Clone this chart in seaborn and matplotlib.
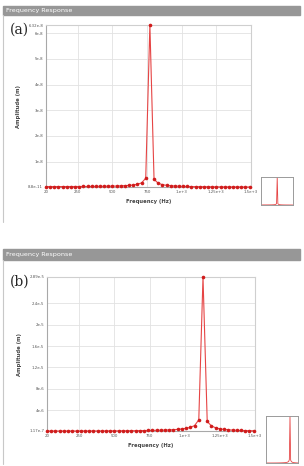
import numpy as np
import pandas as pd
import seaborn as sns
import matplotlib.pyplot as plt
from matplotlib.patches import Rectangle
from matplotlib.lines import Line2D

# frequencies (Hz)
freq = [20, 50, 80, 110, 140, 170, 200, 230, 260, 290, 320, 350, 380, 410, 440,
        470, 500, 530, 560, 590, 620, 650, 680, 710, 740, 770, 800, 830, 860, 890,
        920, 950, 980, 1010, 1040, 1070, 1100, 1130, 1160, 1190, 1220, 1250, 1280,
        1310, 1340, 1370, 1400, 1430, 1460, 1490]
# (a) amplitude, units of 1e-8 m
amp_a = [0.025, 0.025, 0.0253, 0.0255, 0.026, 0.0263, 0.027, 0.0275, 0.028, 0.029,
         0.030, 0.0315, 0.033, 0.035, 0.037, 0.040, 0.043, 0.047, 0.053, 0.061,
         0.071, 0.087, 0.114, 0.17, 0.35, 6.32, 0.31, 0.155, 0.101, 0.074,
         0.058, 0.047, 0.039, 0.034, 0.029, 0.026, 0.023, 0.021, 0.019, 0.017,
         0.016, 0.015, 0.014, 0.013, 0.012, 0.011, 0.0105, 0.0099, 0.0093, 0.0088]
# (b) amplitude, units of 1e-6 m
amp_b = [0.117, 0.117, 0.118, 0.118, 0.119, 0.120, 0.121, 0.122, 0.123, 0.125,
         0.127, 0.129, 0.131, 0.134, 0.137, 0.141, 0.145, 0.150, 0.156, 0.163,
         0.171, 0.180, 0.19, 0.20, 0.215, 0.23, 0.25, 0.27, 0.29, 0.32,
         0.36, 0.42, 0.50, 0.62, 0.80, 1.13, 2.2, 28.9, 1.9, 1.07,
         0.71, 0.52, 0.41, 0.34, 0.29, 0.25, 0.22, 0.195, 0.175, 0.158]
xticks = [20, 250, 500, 750, 1000, 1250, 1500]
xtick_labels = ["20", "250", "500", "750", "1.e+3", "1.25e+3", "1.5e+3"]

df_a = pd.DataFrame({"f": freq, "amp": np.array(amp_a) * 1e-8})
df_b = pd.DataFrame({"f": freq, "amp": np.array(amp_b) * 1e-6})

W, H = 304, 466
sns.set_style("white")
fig = plt.figure(figsize=(W / 100, H / 100), dpi=100)


def box(l, t, r, b):
    return [l / W, 1 - b / H, (r - l) / W, (b - t) / H]


RED = "#e64545"
GRID = "#e2e2e2"


def panel(df, rect, yticks, ylabels, ylim, tag, head_top, head_bot, frame_bot, inset):
    # header bar
    fig.patches.append(Rectangle((3 / W, 1 - head_bot / H), 297 / W, (head_bot - head_top) / H,
                                 transform=fig.transFigure, color="#979797", zorder=0))
    fig.text(6 / W, 1 - (head_top + head_bot) / 2 / H, "Frequency Response", color="white",
             fontsize=4.6, va="center", ha="left")
    fig.lines.append(Line2D([3 / W, 3 / W], [1 - head_bot / H, 1 - frame_bot / H],
                            transform=fig.transFigure, color="#c8c8c8", lw=0.8))
    ax = fig.add_axes(box(*rect))
    sns.lineplot(data=df, x="f", y="amp", ax=ax, color=RED, lw=0.8, marker="o",
                 markersize=2.6, markeredgewidth=0, markerfacecolor="#d01c1c",
                 clip_on=False, zorder=3)
    ax.set_xlim(20, 1500)
    ax.set_ylim(*ylim)
    ax.set_xticks(xticks)
    ax.set_xticklabels(xtick_labels)
    ax.set_yticks(yticks)
    ax.set_yticklabels(ylabels)
    ax.grid(True, color=GRID, lw=0.6)
    ax.tick_params(labelsize=2.8, colors="#555555", length=0, pad=2)
    ax.set_xlabel("Frequency (Hz)", fontsize=3.8, fontweight="bold", color="#444444", labelpad=4)
    ax.set_ylabel("Amplitude (m)", fontsize=3.8, fontweight="bold", color="#444444", labelpad=5)
    for s in ax.spines.values():
        s.set_color("#cfcfcf")
        s.set_linewidth(0.8)
    ax.spines["left"].set_color("#a8a8a8")
    ax.spines["bottom"].set_color("#a8a8a8")
    fig.text(10 / W, 1 - (rect[1] + 5) / H, tag, fontsize=10, family="DejaVu Serif",
             va="center", ha="left")
    # thumbnail
    ins = fig.add_axes(box(*inset))
    sns.lineplot(data=df, x="f", y="amp", ax=ins, color=RED, lw=0.6)
    ins.set_xlim(20, 1500)
    ins.set_ylim(*ylim)
    ins.set_xticks([])
    ins.set_yticks([])
    ins.set_xlabel("")
    ins.set_ylabel("")
    for s in ins.spines.values():
        s.set_color("#9a9a9a")
        s.set_linewidth(0.7)
    return ax


panel(df_a, (46, 25, 251, 187),
      [8.8e-11, 1e-8, 2e-8, 3e-8, 4e-8, 5e-8, 6e-8, 6.32e-8],
      ["8.8e-11", "1e-8", "2e-8", "3e-8", "4e-8", "5e-8", "6e-8", "6.32e-8"],
      (8.8e-11, 6.32e-8), "(a)", 6, 15, 222, (261, 177, 293, 205))

panel(df_b, (47, 277, 255, 431),
      [1.17e-7, 4e-6, 8e-6, 1.2e-5, 1.6e-5, 2e-5, 2.4e-5, 2.89e-5],
      ["1.17e-7", "4e-6", "8e-6", "1.2e-5", "1.6e-5", "2e-5", "2.4e-5", "2.89e-5"],
      (1.17e-7, 2.89e-5), "(b)", 249, 260, 464, (266, 416, 298, 463))

fig.savefig("out.png", dpi=100)
